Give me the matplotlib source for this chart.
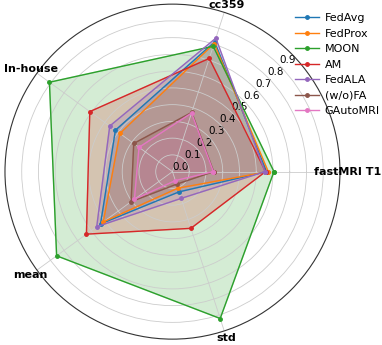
import numpy as np
import matplotlib
matplotlib.use("Agg")
import matplotlib.pyplot as plt

# axes of the radar, counter-clockwise from the right
categories = ['fastMRI T1', 'cc359', 'In-house', 'mean', 'std']

methods = ['FedAvg', 'FedProx', 'MOON', 'AM', 'FedALA', '(w/o)FA', 'GAutoMRI']
fedavg   = [0.562, 0.815, 0.421, 0.531, 0.127]
fedprox  = [0.572, 0.804, 0.388, 0.511, 0.104]
moon     = [0.606, 0.787, 0.908, 0.855, 0.922]
am       = [0.556, 0.711, 0.610, 0.635, 0.356]
fedala   = [0.552, 0.838, 0.463, 0.559, 0.168]
wo_fa    = [0.246, 0.372, 0.286, 0.305, 0.079]
gautomri = [0.244, 0.368, 0.247, 0.281, 0.056]
all_vals = [fedavg, fedprox, moon, am, fedala, wo_fa, gautomri]

rticks = [0.0, 0.1, 0.2, 0.3, 0.4, 0.5, 0.6, 0.7, 0.8, 0.9]

angles = np.linspace(0, 2 * np.pi, len(categories), endpoint=False).tolist()
angles += angles[:1]

fig = plt.figure(figsize=(3.82, 3.45), dpi=100)
ax = fig.add_axes([0.013, 0.017, 0.877, 0.971], polar=True)

for name, vals in zip(methods, all_vals):
    v = vals + vals[:1]
    line, = ax.plot(angles, v, marker='o', markersize=2.5, linewidth=1, label=name)
    ax.fill(angles, v, color=line.get_color(), alpha=0.2)

ax.set_ylim(0, 1.0)
ax.set_yticks(rticks)
ax.set_yticklabels([f"{t:.1f}" for t in rticks], fontsize=7.5)
ax.set_rlabel_position(45)
ax.set_xticks(angles[:-1])
ax.set_xticklabels([])
ax.grid(color='#cccccc', linewidth=0.6)
ax.spines['polar'].set_linewidth(0.8)
ax.spines['polar'].set_color('#333333')

# category names sit right on the rim, like in the original
for ang, name in zip(angles[:-1], categories):
    r = 1.05 if name == 'mean' else 1.045
    ax.text(ang, r, name, ha='center', va='center', fontsize=8,
            fontweight='bold', clip_on=False)

ax.legend(loc='upper right', bbox_to_anchor=(1.015, 0.985), bbox_transform=fig.transFigure,
          frameon=False, fontsize=8, handlelength=2.1, handletextpad=0.55,
          labelspacing=0.5, borderaxespad=0.3)

fig.savefig('out.png', dpi=100)
